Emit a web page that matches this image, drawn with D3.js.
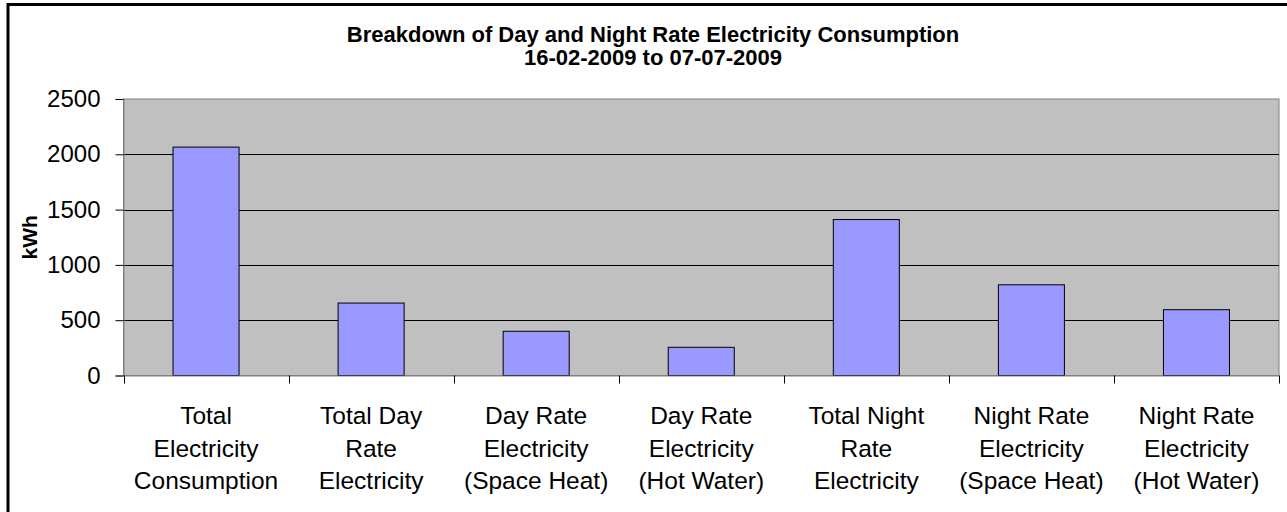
<!DOCTYPE html>
<html>
<head>
<meta charset="utf-8">
<script src="https://cdn.jsdelivr.net/npm/d3@7"></script>
<style>
  html, body { margin: 0; padding: 0; background: #fff; overflow: hidden; }
  svg { display: block; font-family: "Liberation Sans", Arial, sans-serif; }
</style>
</head>
<body>
<svg id="chart" width="1287" height="512"></svg>
<script>
// ---- data ----
const categories = [
  "Total Electricity Consumption",
  "Total Day Rate Electricity",
  "Day Rate Electricity (Space Heat)",
  "Day Rate Electricity (Hot Water)",
  "Total Night Rate Electricity",
  "Night Rate Electricity (Space Heat)",
  "Night Rate Electricity (Hot Water)"
];
const categoryLines = [
  ["Total", "Electricity", "Consumption"],
  ["Total Day", "Rate", "Electricity"],
  ["Day Rate", "Electricity", "(Space Heat)"],
  ["Day Rate", "Electricity", "(Hot Water)"],
  ["Total Night", "Rate", "Electricity"],
  ["Night Rate", "Electricity", "(Space Heat)"],
  ["Night Rate", "Electricity", "(Hot Water)"]
];
const values = [2065, 655, 400, 255, 1410, 820, 595];
const yTicks = [0, 500, 1000, 1500, 2000, 2500];
const titleLines = [
  "Breakdown of Day and Night Rate Electricity Consumption",
  "16-02-2009 to 07-07-2009"
];
const yLabel = "kWh";

// ---- layout ----
const svg = d3.select("#chart");
const plot = { left: 123.5, right: 1279, top: 99, bottom: 375.5 };

// outer chart border (only top/left visible in frame)
svg.append("rect")
  .attr("x", 8).attr("y", 4.5)
  .attr("width", 1400).attr("height", 700)
  .attr("fill", "#fff").attr("stroke", "#000").attr("stroke-width", 3);

const x = d3.scaleBand()
  .domain(categories)
  .range([plot.left, plot.right])
  .paddingInner(0.6)
  .paddingOuter(0.3);

const y = d3.scaleLinear()
  .domain([0, 2500])
  .range([plot.bottom, plot.top]);

// plot background
svg.append("rect")
  .attr("x", plot.left).attr("y", plot.top)
  .attr("width", plot.right - plot.left)
  .attr("height", plot.bottom - plot.top)
  .attr("fill", "#C0C0C0")
  .attr("stroke", "#808080").attr("stroke-width", 1);

// gridlines
svg.append("g")
  .selectAll("line")
  .data(yTicks.filter(d => d > 0 && d < 2500))
  .join("line")
  .attr("x1", plot.left).attr("x2", plot.right)
  .attr("y1", d => Math.round(y(d)) + 0.5)
  .attr("y2", d => Math.round(y(d)) + 0.5)
  .attr("stroke", "#000").attr("stroke-width", 1);

// bars
svg.append("g")
  .selectAll("rect")
  .data(values)
  .join("rect")
  .attr("x", (d, i) => x(categories[i]))
  .attr("y", d => y(d))
  .attr("width", x.bandwidth())
  .attr("height", d => y(0) - y(d))
  .attr("fill", "#9999FF")
  .attr("stroke", "#000").attr("stroke-width", 1);

// y axis
const yAxis = svg.append("g")
  .attr("transform", `translate(${plot.left},0)`)
  .call(d3.axisLeft(y).tickValues(yTicks).tickSize(8).tickPadding(15).tickFormat(d3.format("d")));
yAxis.select(".domain").attr("stroke", "#808080");
yAxis.selectAll(".tick line").attr("stroke", "#000");
yAxis.selectAll(".tick text")
  .attr("font-size", 24)
  .attr("fill", "#000")
  .attr("font-family", "Liberation Sans, Arial, sans-serif");

// x axis line
const xAxis = svg.append("g")
  .attr("transform", `translate(0,${plot.bottom})`)
  .call(d3.axisBottom(x).tickSize(0).tickFormat(""));
xAxis.select(".domain").attr("stroke", "#808080");

// x boundary ticks
const step = x.step();
const x0 = x.range()[0];
svg.append("g")
  .selectAll("line")
  .data(d3.range(categories.length + 1))
  .join("line")
  .attr("x1", i => Math.round(x0 + i * step) + 0.5)
  .attr("x2", i => Math.round(x0 + i * step) + 0.5)
  .attr("y1", plot.bottom).attr("y2", plot.bottom + 8)
  .attr("stroke", "#000").attr("stroke-width", 1);

// x category labels
const labels = svg.append("g")
  .selectAll("text")
  .data(categories)
  .join("text")
  .attr("text-anchor", "middle")
  .attr("font-size", 24.5)
  .attr("fill", "#000");
labels.each(function(c, i) {
  const t = d3.select(this);
  categoryLines[i].forEach((line, j) => {
    t.append("tspan")
      .attr("x", x(c) + x.bandwidth() / 2)
      .attr("y", 424 + j * 32.5)
      .text(line);
  });
});

// title
svg.append("g")
  .selectAll("text")
  .data(titleLines)
  .join("text")
  .attr("x", 653)
  .attr("y", (d, i) => 42 + i * 22.5)
  .attr("text-anchor", "middle")
  .attr("font-size", 22)
  .attr("font-weight", "bold")
  .attr("fill", "#000")
  .text(d => d);

// y label
svg.append("text")
  .attr("transform", `translate(37,${(plot.top + plot.bottom) / 2}) rotate(-90)`)
  .attr("text-anchor", "middle")
  .attr("font-size", 21)
  .attr("font-weight", "bold")
  .attr("fill", "#000")
  .text(yLabel);
</script>
</body>
</html>
